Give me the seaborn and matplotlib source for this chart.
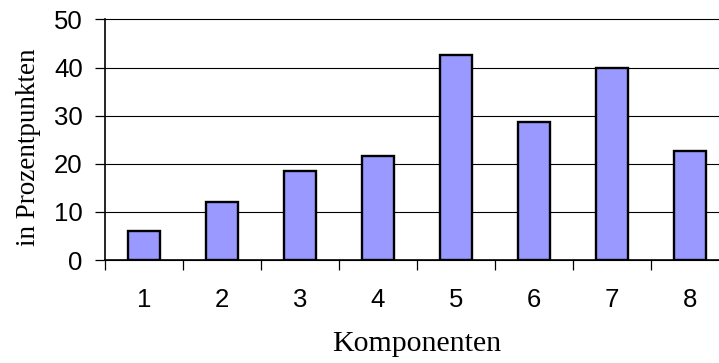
import matplotlib
matplotlib.use("Agg")
import matplotlib.pyplot as plt
import seaborn as sns
import pandas as pd

categories = ["1", "2", "3", "4", "5", "6", "7", "8"]
values = [6.0, 12.0, 18.4, 21.6, 42.6, 28.6, 40.0, 22.7]
y_ticks = [0, 10, 20, 30, 40, 50]

sns.set_style("white")
plt.rcParams['font.family'] = ['Liberation Sans', 'DejaVu Sans']
plt.rcParams['text.color'] = 'black'
plt.rcParams['axes.labelcolor'] = 'black'
plt.rcParams['xtick.color'] = 'black'
plt.rcParams['ytick.color'] = 'black'

W, H = 719, 363
fig = plt.figure(figsize=(W / 100, H / 100), dpi=100)
left, right, top, bottom = 105, 729, 19.5, 260
ax = fig.add_axes([left / W, (H - bottom) / H, (right - left) / W, (bottom - top) / H])

df = pd.DataFrame({"Komponente": categories, "Wert": values})
sns.barplot(data=df, x="Komponente", y="Wert", color="#9999FF", saturation=1,
            edgecolor="black", linewidth=1.7, width=0.41, ax=ax, zorder=3)

ax.set_ylim(0, 50)
ax.set_xlim(-0.5, 7.5)
ax.set_yticks(y_ticks)
ax.set_yticklabels([str(t) for t in y_ticks])
ax.yaxis.grid(True, color="black", linewidth=0.8, zorder=0)
for gl in ax.yaxis.get_gridlines():
    gl.set_clip_on(False)
ax.set_axisbelow(True)

# category ticks between bars, labels at centres
ax.set_xticks([i - 0.5 for i in range(8)], minor=False)
ax.set_xticklabels([])
ax.set_xticks(range(8), minor=True)
ax.set_xticklabels(categories, minor=True)
ax.tick_params(axis="x", which="major", bottom=True, direction="out", length=7, width=0.9, color="black")
ax.tick_params(axis="x", which="minor", bottom=False, length=0, pad=20, labelsize=18.5, labelcolor="black")
ax.tick_params(axis="y", left=True, direction="out", length=7, width=0.9, color="black", pad=9,
               labelsize=18.5, labelcolor="black")

for s in ["top", "right"]:
    ax.spines[s].set_visible(False)
for s in ["left", "bottom"]:
    ax.spines[s].set_color("black")
    ax.spines[s].set_linewidth(1.2)

ax.set_xlabel("Komponenten", family=["Liberation Serif", "DejaVu Serif"], fontsize=21.5, color="black")
ax.xaxis.set_label_coords(0.5, -0.295)
ax.set_ylabel("in Prozentpunkten", family=["Liberation Serif", "DejaVu Serif"], fontsize=19.5, color="black")
ax.yaxis.set_label_coords(-0.102, 0.47)

fig.savefig("out.png", dpi=100)
